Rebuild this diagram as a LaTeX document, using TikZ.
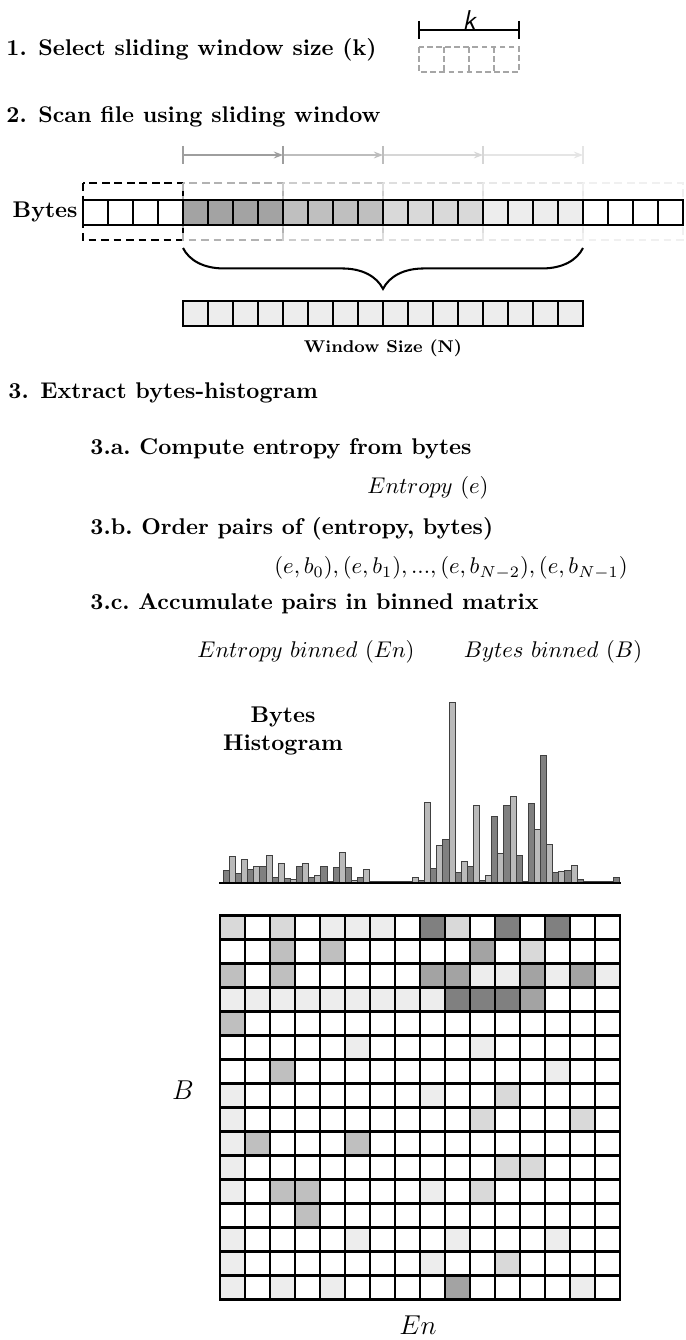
\documentclass[tikz,border=0pt]{standalone}
\usepackage{amsmath}
\usepackage{tikz}
\usetikzlibrary{decorations.pathreplacing,arrows.meta}

\colorlet{cellc0}{white}
\colorlet{cellc1}{black!7}
\colorlet{cellc2}{black!15}
\colorlet{cellc3}{black!25}
\colorlet{cellc4}{black!36}
\colorlet{cellc5}{black!50}
\colorlet{histc0}{black!50}
\colorlet{histc1}{black!27}

\begin{document}
\begin{tikzpicture}[x=0.44pt, y=-0.44pt,
    steptext/.style={anchor=west, inner sep=0pt, font=\bfseries},
    bytecell/.style={draw=black, line width=0.9pt},
    slidebox/.style={dashed, dash pattern=on 3.5pt off 2pt, line width=0.9pt},
    slidearrow/.style={-{Stealth[length=4pt,width=3pt]}, line width=0.8pt},
    histbar/.style={draw=black!75, line width=0.4pt}]
    \useasboundingbox (0,0) rectangle (686,1340);

    % 1. window size
    \node[steptext] (step1) at (6,50) {1. Select sliding window size (k)};
    \coordinate (kleft) at (419,30);
    \coordinate (kright) at (519,30);
    \draw[line width=0.9pt] (kleft) -- (kright);
    \draw[line width=0.9pt] (419,21) -- (419,39);
    \draw[line width=0.9pt] (519,21) -- (519,39);
    \node[font=\sffamily\itshape\large, inner sep=0pt] (klabel) at (469,20) {k};
    \draw[black!35, dashed, dash pattern=on 2.5pt off 1.5pt, line width=0.7pt] (419,47) rectangle (519,72);
    \foreach \x in {444,469,494}
        \draw[black!35, dashed, dash pattern=on 2.5pt off 1.5pt, line width=0.7pt] (\x,47) -- (\x,72);

    % 2. sliding window
    \node[steptext] (step2) at (6,117) {2. Scan file using sliding window};
    \foreach \i in {0,...,4}
        \coordinate (w\i) at ({183+100*\i},155);
    \draw[slidearrow, black!38] (w0) -- (w1);
    \draw[slidearrow, black!26] (w1) -- (w2);
    \draw[slidearrow, black!16] (w2) -- (w3);
    \draw[slidearrow, black!10] (w3) -- (w4);
    \foreach \i/\c in {0/black!38, 1/black!38, 2/black!26, 3/black!16, 4/black!10}
        \draw[\c, line width=0.8pt] (w\i) ++(0,-9) -- ++(0,18);

    \draw[slidebox, black] (83,183) rectangle (183,240);
    \foreach \g/\c in {0/black!30, 1/black!20, 2/black!13, 3/black!9, 4/black!6}
        \draw[slidebox, \c] ({183+100*\g},183) rectangle ++(100,57);

    \foreach \g/\c in {0/white, 1/cellc4, 2/cellc3, 3/cellc2, 4/cellc1, 5/white}
        \foreach \k in {0,...,3}
            \filldraw[bytecell, fill=\c] ({83+100*\g+25*\k},200) rectangle ++(25,25);
    \node[anchor=east, inner sep=0pt, font=\bfseries] (byteslabel) at (78,212) {Bytes};

    \draw[decorate, decoration={brace, mirror, amplitude=18pt}, line width=0.9pt] (183,248) -- (583,248);
    \foreach \k in {0,...,15}
        \filldraw[bytecell, fill=cellc1] ({183+25*\k},301) rectangle ++(25,25);
    \node[font=\bfseries\fontsize{7.5}{9}\selectfont] (winsize) at (383,348) {Window Size (N)};

    % 3. histogram
    \node[steptext] (step3) at (8,393) {3. Extract bytes-histogram};
    \node[steptext] (step3a) at (90,449) {3.a.\ Compute entropy from bytes};
    \node (entropy) at (428,488) {$Entropy\ (e)$};
    \node[steptext] (step3b) at (90,529) {3.b.\ Order pairs of (entropy, bytes)};
    \node (pairs) at (451,568) {$(e,b_0),(e,b_1),...,(e,b_{N-2}),(e,b_{N-1})$};
    \node[steptext] (step3c) at (90,604) {3.c.\ Accumulate pairs in binned matrix};
    \node (enbin) at (306,652) {$Entropy\ binned\ (En)$};
    \node (bbin) at (553,652) {$Bytes\ binned\ (B)$};

    \node[font=\bfseries, align=center] (histlabel) at (283,731) {Bytes\\Histogram};
    \foreach \h [count=\i from 0] in {12.7,26.3,10,24,14,16.7,16.7,27.3,6,20,4.7,4,16.7,20,6,8,
        16.7,1.3,15.7,31,15.7,2.7,6,13.7,1.5,1.2,1.5,1.2,1.5,1.2,1.5,6,2.7,81,14.3,37.3,43.3,180.7,
        11,22,16.7,77.3,2.3,7.3,66.3,29.7,77.3,86.7,27.7,1.5,79.3,54,127.7,38.3,10.7,11.3,
        12.3,18,4,1.2,1.2,1.2,1.5,1.5,6} {
        \pgfmathtruncatemacro\p{mod(\i,2)}
        \filldraw[histbar, fill=histc\p] ({223.3+6.1*\i},883) rectangle ++(6.1,-\h);
    }
    \draw[line width=0.6pt] (219,883) -- (621,883);

    \foreach \row [count=\r from 0] in {
        {2,0,2,0,1,1,1,0,5,2,0,5,0,5,0,0},
        {0,0,3,0,3,0,0,0,0,0,4,0,2,0,0,0},
        {3,0,3,0,0,0,0,0,4,4,1,1,4,1,4,1},
        {1,1,1,1,1,1,1,1,1,5,5,5,4,0,0,0},
        {3,0,0,0,0,0,0,0,0,0,0,0,0,0,0,0},
        {0,0,0,0,0,1,0,0,0,0,1,0,0,0,0,0},
        {0,0,3,0,0,0,0,0,0,0,0,0,0,1,0,0},
        {1,0,0,0,0,0,0,0,1,0,0,2,0,0,0,0},
        {1,0,0,0,0,0,0,0,0,0,2,0,0,0,2,0},
        {1,3,0,0,0,3,0,0,0,0,0,0,0,0,0,0},
        {1,0,0,0,0,0,0,0,0,0,0,2,2,0,0,0},
        {1,0,3,3,0,0,0,0,1,0,2,0,0,0,0,0},
        {0,0,0,3,0,0,0,0,0,0,0,0,0,0,0,0},
        {1,0,0,0,0,1,0,0,0,1,0,0,0,1,0,0},
        {1,0,0,0,0,0,0,0,1,0,0,2,0,0,0,0},
        {1,0,1,0,1,0,0,0,0,4,0,0,0,0,1,0}} {
        \foreach \v [count=\c from 0] in \row
            \filldraw[bytecell, fill=cellc\v] ({220+25*\c},{915.5+24*\r}) rectangle ++(25,24);
    }
    \node[font=\large] (blabel) at (183,1090) {$B$};
    \node[font=\large] (enlabel) at (418,1325) {$En$};
\end{tikzpicture}
\end{document}
